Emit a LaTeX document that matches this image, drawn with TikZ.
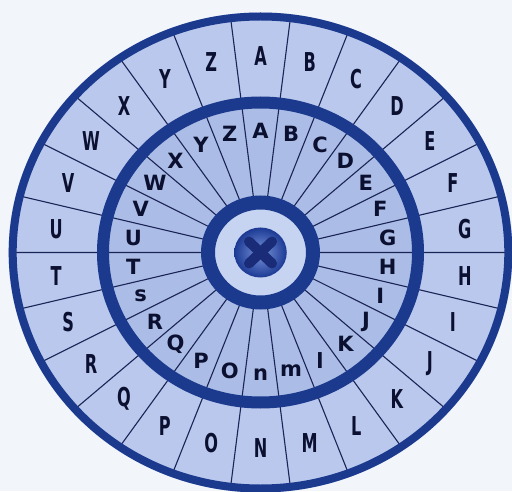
\documentclass[tikz,border=0pt]{standalone}
\usepackage{fontspec}
\setmainfont{DejaVu Sans}
\usepackage{graphicx}
\definecolor{bg}{HTML}{F2F5FA}
\definecolor{outerfill}{HTML}{B9C8EC}
\definecolor{innerfill}{HTML}{ABBDE6}
\definecolor{centerfill}{HTML}{C6D3F1}
\definecolor{ringblue}{HTML}{1B3A8E}
\definecolor{sectorline}{HTML}{1A2456}
\definecolor{letterc}{HTML}{0B1030}
\definecolor{btnlight}{HTML}{7A96DC}
\definecolor{btndark}{HTML}{1C3A94}
\definecolor{btnx}{HTML}{1A2C78}
\tikzset{
  ring/.style={draw=ringblue},
  sector/.style={draw=sectorline, line width=1.1pt},
  outl/.style={text=letterc, font=\fontsize{26}{26}\selectfont\bfseries, inner sep=0pt},
  innl/.style={text=letterc, font=\fontsize{21}{21}\selectfont\bfseries, inner sep=0pt},
  xstroke/.style={draw=btnx, line width=10pt, line cap=round}
}
\begin{document}
\begin{tikzpicture}[x=1pt,y=1pt]
\useasboundingbox (0,0) rectangle (512,491);
\fill[bg] (0,0) rectangle (512,491);
\begin{scope}[shift={(260.5,238.5)}, xscale=1.05]
  \fill[outerfill] (0,0) circle (240);
  \fill[innerfill] (0,0) circle (150);
  \foreach \k in {0,...,25} {
    \draw[sector] ({96.923+\k*13.846}:52) -- ({96.923+\k*13.846}:237);
  }
  \draw[ring, line width=8pt] (0,0) circle (236);
  \draw[ring, line width=12pt] (0,0) circle (150);
  \fill[centerfill] (0,0) circle (50);
  \draw[ring, line width=14pt] (0,0) circle (50);
  \shade[inner color=btnlight, outer color=btndark] (0,0) circle (25);
  \draw[xstroke] (-11,-11) -- (11,11);
  \draw[xstroke] (-11,11) -- (11,-11);
  \foreach \L [count=\n from 0] in {A,B,C,D,E,F,G,H,I,J,K,L,M,N,O,P,Q,R,S,T,U,V,W,X,Y,Z} {
    \node[outl] (o\n) at ({90-\n*13.846}:196) {\scalebox{0.62}[1]{\L}};
  }
  \foreach \L [count=\n from 0] in {A,B,C,D,E,F,G,H,I,J,K,l,m,n,O,P,Q,R,s,T,U,V,W,X,Y,Z} {
    \node[innl] (i\n) at ({90-\n*13.846}:122) {\L};
  }
\end{scope}
\end{tikzpicture}
\end{document}
